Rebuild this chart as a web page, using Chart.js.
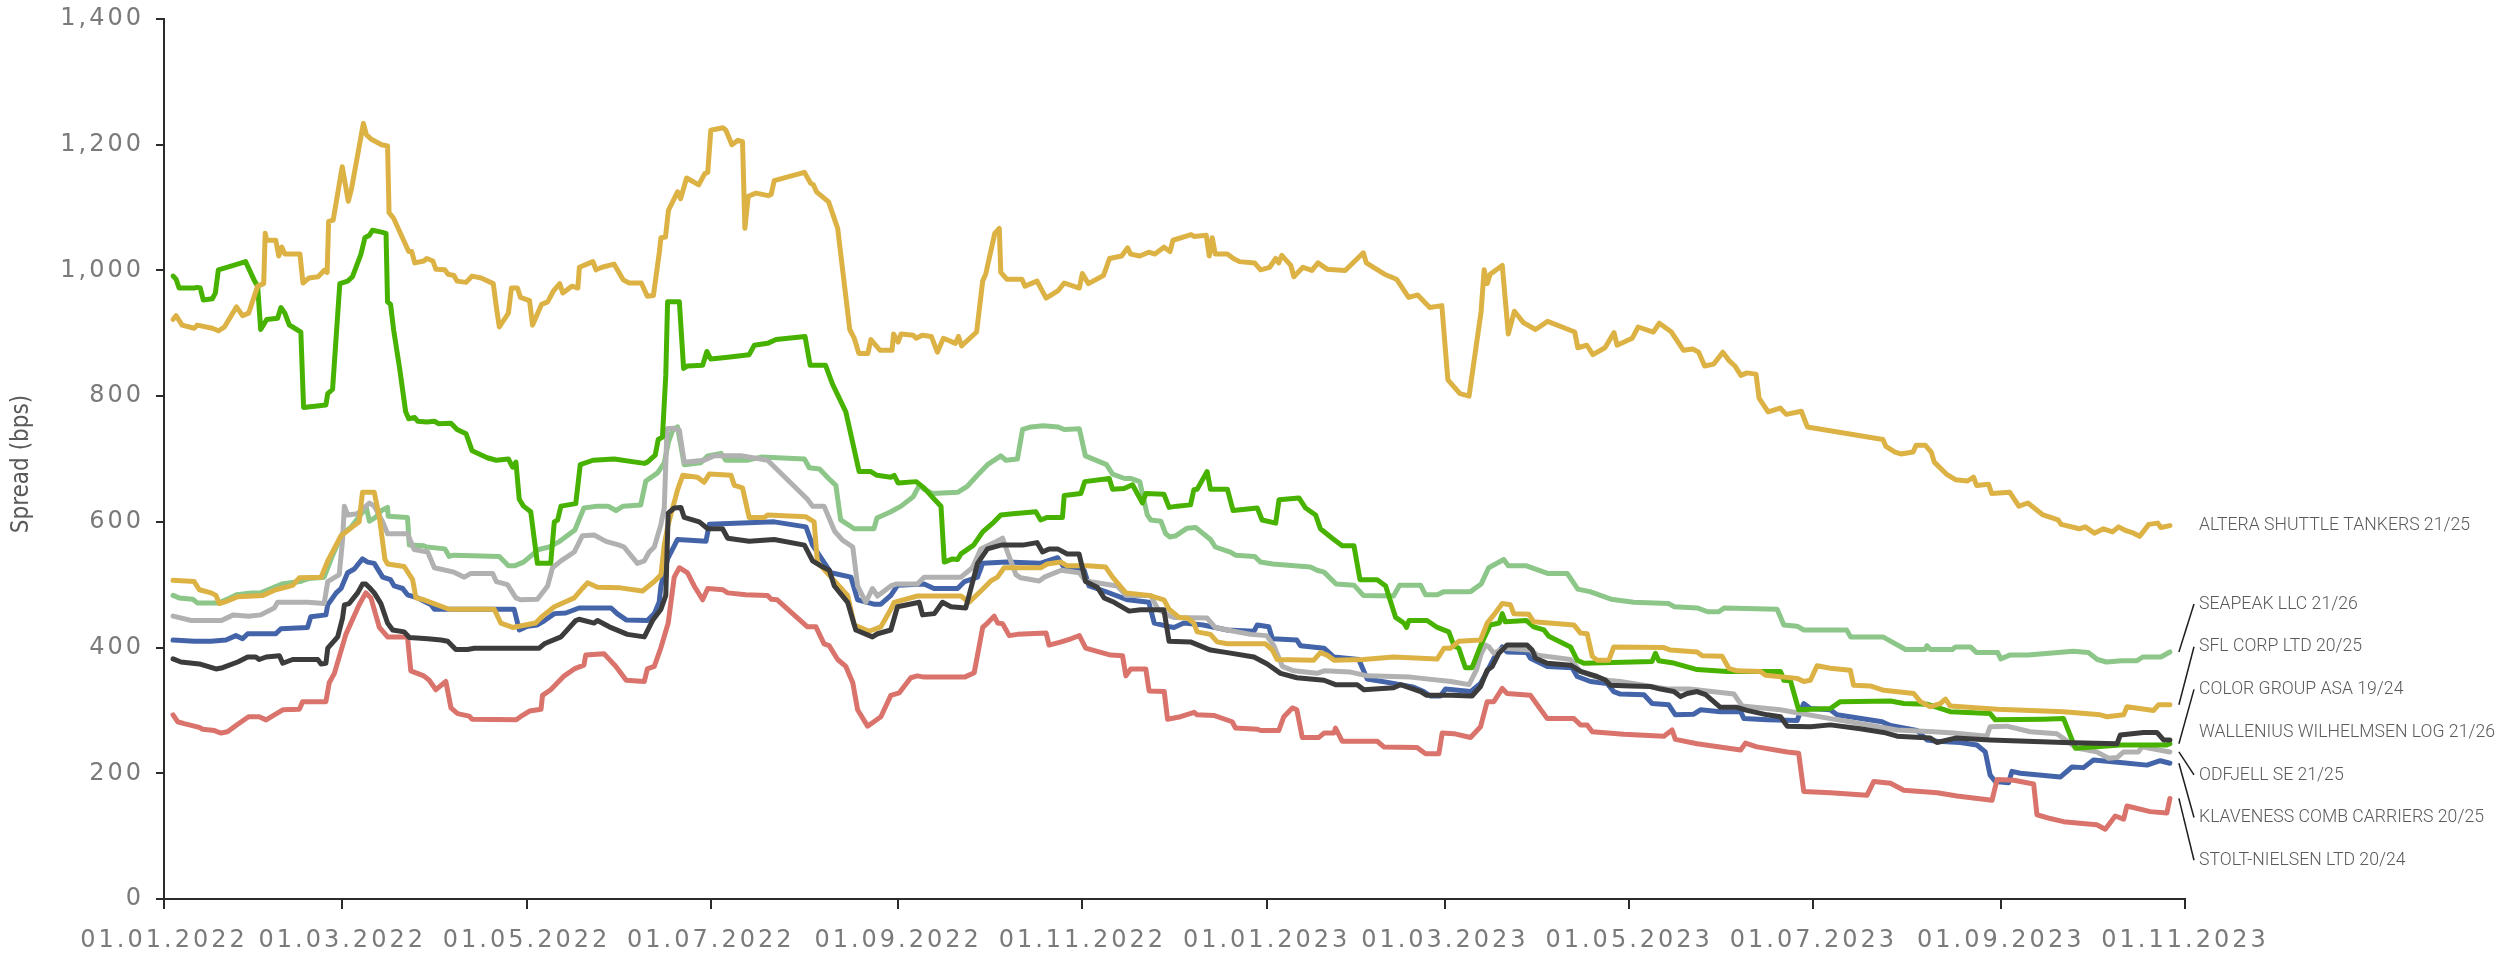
<!DOCTYPE html>
<html>
<head>
<meta charset="utf-8">
<title>Spread (bps)</title>
<script src="https://cdn.jsdelivr.net/npm/chart.js@4.4.1/dist/chart.umd.min.js"></script>
<style>
  html, body { margin: 0; padding: 0; background: #fff; }
  canvas { display: block; }
</style>
</head>
<body>
<canvas id="spreads" width="2499" height="959"></canvas>
<script>
// x values are days counted from 01.01.2022
const tickDays = [0, 59, 120, 181, 243, 304, 365, 424, 485, 546, 608, 669];
const tickLabels = ['01.01.2022', '01.03.2022', '01.05.2022', '01.07.2022', '01.09.2022', '01.11.2022',
  '01.01.2023', '01.03.2023', '01.05.2023', '01.07.2023', '01.09.2023', '01.11.2023'];

const altera = [[3,922],[4,928],[6,913],[10,908],[11,913],[16,908],[18,904],[20,910],[24,942],[26,928],[28,932],[31,975],[33,979],[33.5,1059],[34,1048],[37,1048],[38,1023],[39,1037],[40,1026],[45,1026],[46,980],[48,988],[51,990],[53,1000],[54,997],[54.5,1078],[56,1080],[59,1165],[61,1110],[62,1128],[66,1234],[67,1216],[68.5,1209],[72,1200],[74,1198],[74.5,1092],[76,1083],[81,1030],[82,1030],[83,1012],[86,1015],[87,1019],[89,1015],[90,1002],[93,1001],[94,994],[96,992],[97,983],[100,981],[102,991],[105,988],[109,979],[110,942],[111,910],[114,932],[115,972],[117,972],[118,957],[121,952],[122,913],[125,946],[127,950],[129,968],[131,979],[132,964],[135,975],[137,972],[137.5,1005],[140,1010],[142,1014],[143,1001],[145,1005],[149,1010],[152,985],[154,980],[158,980],[160,959],[162,960],[164,1030],[164.5,1052],[166,1053],[167,1096],[170,1125],[171,1114],[173,1147],[177,1136],[179,1154],[180,1156],[181,1223],[185,1227],[186,1223],[188,1200],[190,1207],[191.5,1205],[192.3,1067],[193.4,1118],[196,1123],[200,1119],[201,1121],[202,1143],[212,1156],[214,1139],[215,1136],[216,1125],[220,1109],[223,1067],[227,906],[228.5,892],[230,868],[233,868],[234,890],[237,873],[241,873],[241.5,899],[243,886],[244,899],[248,897],[249,892],[251,897],[254,895],[256,870],[258,892],[262,884],[263,895],[264,880],[269,902],[271,983],[272,994],[275,1059],[276.5,1067],[277,997],[279,986],[284,986],[285,975],[289,983],[292,956],[296,968],[298,980],[303,972],[304,995],[306,979],[311,992],[313,1019],[317,1023],[319,1036],[320,1026],[323,1023],[326,1029],[328,1026],[331,1037],[333,1030],[334,1048],[340,1057],[341,1054],[345,1056],[346,1023],[347,1052],[348,1026],[352,1026],[354,1019],[356,1014],[361,1012],[363,1001],[366,1005],[368,1019],[369,1012],[370,1024],[373,1008],[374,990],[377,1005],[380,1000],[382,1012],[385,1002],[391,1000],[397,1028],[398,1012],[404,994],[408,986],[412,957],[415,961],[419,941],[423,944],[424,884],[425,826],[429,804],[432,800],[436,935],[437,1001],[438,979],[439,994],[443,1008],[445,899],[447,935],[450,917],[454,906],[458,919],[467,902],[468,877],[471,881],[473,866],[477,877],[480,901],[481,881],[486,892],[488,910],[493,902],[495,916],[499,902],[503,873],[506,875],[508,870],[510,848],[513,851],[516,870],[518,857],[520,848],[522,833],[524,837],[527,835],[528,797],[531,775],[535,781],[537,771],[542,776],[544,751],[569,731],[570,720],[573,711],[575,708],[579,711],[580,722],[583,722],[585,711],[586,695],[590,676],[593,667],[597,665],[599,671],[600,658],[604,660],[605,645],[611,647],[614,625],[617,630],[622,611],[627,603],[628,596],[634,589],[636,592],[639,582],[642,589],[645,584],[647,592],[649,587],[652,582],[654,577],[657,596],[660,598],[661,591],[664,594]];

const seapeak = [[3,483],[5,479],[9.5,477],[11,471],[18,471],[21,477],[24,484],[29,487],[32,487],[39,501],[45,505],[48,510],[53,512],[56,549],[59,581],[62,592],[65,611],[67,622],[68,601],[70,607],[72,618],[74,623],[74.2,609],[80.6,607],[81.2,563],[86,562],[87,560],[93,557],[94.4,545],[96,547],[111,545],[114,530],[116,530],[119,536],[124,556],[127.5,560],[131,569],[136,587],[139,622],[143.5,625],[147,625],[149.6,618],[152,625],[157.8,627],[159.5,665],[163.4,678],[165.6,694],[167,727],[168.4,746],[170,751],[172.2,691],[177.7,694],[180,705],[184.4,709],[186,698],[193,698],[197.6,703],[212,700],[213.6,686],[217,684],[220,669],[222.4,658],[224,603],[228.5,589],[235,589],[236,606],[240.6,616],[244,625],[248,640],[250,658],[251.6,652],[254.4,645],[262.7,647],[266,657],[269,673],[272.6,691],[277,705],[278.7,698],[282.5,700],[284.2,747],[287,751],[291,753],[296,751],[298,747],[303,748],[305,705],[312,691],[314,676],[318,669],[320,669],[323,664],[325.5,611],[326.6,603],[330,601],[331.6,581],[333,576],[335,578],[338.7,590],[341.5,591],[346.4,572],[348,560],[353,552],[354.7,547],[361,545],[363,536],[367,533],[379.5,528],[381.7,523],[384,520],[388,501],[394,499],[397,483],[407,482],[409,499],[416,499],[417.6,484],[421.5,484],[423.7,489],[432.5,489],[436,501],[438.5,527],[443.5,540],[445,530],[451,530],[458,518],[464.5,518],[468,493],[472,489],[479,477],[486.5,472],[498,470],[500,465],[507.5,463],[511,457],[514.7,457],[516.4,463],[534,461],[536.2,436],[540.6,434],[542.8,428],[557,428],[558.3,417],[569,417],[576.5,397],[583,397],[583.6,403],[584.7,397],[592,397],[593,401],[598,401],[600,392],[607,392],[608,382],[611,388],[617,388],[632,394],[637,392],[640,381],[643,377],[648,379],[653,379],[655,385],[661,385],[664,393]];

const sflCorp = [[3,507],[10,505],[11.7,492],[15.6,487],[17.2,483],[18.3,470],[21,474],[24.4,481],[32.7,483],[37,492],[42.6,499],[44.8,511],[52,512],[54.2,538],[58.6,578],[62.4,592],[64.6,600],[65.7,647],[69.6,647],[71.3,607],[71.8,589],[73.1,541],[74,533],[79.5,529],[82.3,508],[83.4,479],[86,476],[94.4,461],[109.3,461],[111.5,439],[115.4,432],[123,439],[125.3,450],[129.2,465],[132,471],[135.8,479],[138.5,494],[140.2,503],[143.5,496],[151,495],[158.4,490],[162.3,505],[164.5,516],[165.6,563],[166.7,592],[170,651],[171.7,674],[176.6,671],[178.8,663],[180.5,676],[187.7,674],[188.8,658],[191.5,654],[193.7,607],[198.7,607],[199.8,611],[212.5,608],[215.2,600],[216.3,536],[220.8,512],[226.3,483],[228.5,436],[233.4,426],[237.3,433],[240.6,461],[241.7,472],[249.4,482],[263.8,482],[266.5,472],[270.4,490],[273.7,506],[275.9,512],[278.1,527],[290.2,527],[292.4,533],[296.9,536],[299,530],[305.7,530],[311.7,528],[314,512],[318.4,487],[326.1,483],[331,476],[332.7,461],[336,448],[338.7,447],[340.9,439],[342,425],[346.4,421],[348.6,409],[352,406],[364.6,406],[366.9,396],[368.5,381],[380.6,380],[382.8,392],[385,388],[387.3,380],[397,381],[407,385],[421.5,382],[423.7,399],[425.9,399],[428.6,410],[435.8,412],[438,439],[440.2,452],[443,470],[445.7,468],[446.8,454],[451.8,453],[453.4,441],[466.7,436],[468.9,423],[471.1,422],[472.8,386],[474.4,380],[478.3,380],[479.9,401],[496.5,400],[498.7,396],[507.5,393],[509.2,387],[515.8,386],[518,367],[520.7,363],[528.5,362],[530.1,356],[540.6,351],[542.8,346],[545,348],[547.2,371],[551.6,367],[558.2,364],[559.3,340],[564.8,339],[569.3,332],[579.2,327],[581.4,314],[584.7,306],[588,311],[589.7,318],[591.3,307],[606.8,302],[628.8,298],[640.9,293],[643.2,290],[648.7,293],[649.8,306],[658.6,300],[660.2,309],[664,309]];

const colorGroup = [[3,991],[4,986],[5,972],[10,972],[11,973],[12,972],[13,953],[16,955],[17,964],[18,1001],[23,1008],[27,1014],[30,983],[31,975],[32,906],[34,922],[37.6,924],[38.7,941],[40,932],[41.5,913],[42.6,910],[45.3,902],[46.2,782],[53.6,786],[54.2,804],[55.8,811],[58.2,979],[60.8,983],[62.4,990],[65.2,1026],[66.5,1052],[68,1056],[69,1064],[72,1061],[73.5,1059],[74,950],[75,946],[76,906],[78,844],[80,775],[81,764],[83,766],[84,760],[87,759],[89.5,760],[91,756],[95,757],[97,747],[100,740],[102,713],[107,702],[110,698],[114,700],[115.4,687],[116.5,695],[117.6,636],[119,625],[121.4,616],[123.6,534],[128,534],[129.2,600],[130.3,603],[131.4,625],[136.3,629],[137.8,691],[142,698],[149,700],[159,693],[160,695],[162.6,706],[163.6,731],[165,735],[166.1,833],[166.7,950],[170.6,950],[172,844],[173.3,848],[178.3,849],[179.7,871],[181,859],[186.6,862],[193.7,866],[195.4,881],[199.8,884],[202.6,890],[212.2,895],[213.9,849],[219,849],[221.3,819],[225.7,775],[230.1,680],[234,680],[236,674],[240.6,671],[241.7,674],[243,662],[249,664],[251.6,654],[255,636],[257.2,625],[258.3,536],[261,541],[262.7,540],[263.8,549],[268,563],[271,584],[274.8,600],[277,611],[281,613],[288.6,616],[290.2,603],[292.4,607],[297.4,607],[298,642],[303.5,645],[304.8,664],[312.9,669],[314,652],[317.8,653],[320.6,659],[323.9,630],[325,645],[331,644],[332.7,623],[335.4,625],[339.8,627],[340.9,651],[342,652],[345.3,680],[346.4,652],[352,652],[353.9,618],[361.9,622],[363.5,603],[368,598],[369.1,635],[375.7,638],[377.9,622],[381.2,611],[382.8,589],[386.7,574],[390,562],[393.9,562],[395.9,508],[401.6,508],[404.4,498],[407.7,448],[410.4,439],[411.3,432],[412.1,443],[418.1,443],[421.5,432],[425.3,425],[427,403],[428.6,399],[430.8,368],[433,368],[436,405],[439,436],[442,439],[443,454],[444,441],[451,443],[453.4,433],[456.8,428],[458.4,418],[465.6,401],[467.8,380],[470,375],[492.6,378],[493.7,391],[494.8,379],[499.2,376],[507.5,365],[517.4,362],[535.1,362],[536.2,348],[538.4,347],[541.1,301],[551.6,303],[554.9,314],[571.5,315],[575.9,311],[583.6,310],[591.3,298],[604.5,295],[606.2,285],[622.2,286],[628.8,287],[632.7,240],[647.6,245],[663,245],[664,247]];

const wallenius = [[3,382],[5.6,377],[11.7,374],[17.2,366],[19.4,368],[24.4,377],[27.7,385],[30.4,385],[31.5,381],[33.8,385],[38.2,387],[39.3,375],[42.6,381],[50.9,381],[52,374],[53.6,375],[54.2,399],[57.5,417],[59.1,447],[59.7,468],[61.3,470],[64.1,487],[65.7,501],[66.8,501],[67.9,496],[69.6,487],[71.8,470],[74,439],[75.7,428],[79.5,425],[81.2,416],[87.3,414],[91.7,412],[93.9,410],[96.6,397],[100.5,397],[102.7,399],[124.2,399],[125.9,406],[131.4,417],[136.3,443],[137.4,445],[142.4,439],[143.5,443],[147.4,433],[153.4,421],[159,417],[161.7,443],[164.5,461],[166.1,483],[166.9,614],[168.9,622],[171.1,623],[172.2,607],[177.2,600],[180,589],[184.9,589],[186.6,574],[193.7,569],[202,572],[212,563],[214.7,538],[217.4,530],[220.2,523],[221.9,498],[226.3,472],[229,428],[234.5,417],[236.2,422],[240.6,428],[242.8,465],[250,472],[251.1,452],[255,454],[257.7,472],[260.5,465],[265.4,463],[269.3,534],[272.6,557],[277,563],[284.2,563],[289,567],[290.8,552],[293,557],[295.8,557],[299,549],[302.9,549],[305.1,505],[308.9,496],[311.2,479],[314.5,472],[319.5,458],[323.3,460],[331,460],[332.7,410],[339.8,409],[346.4,396],[352,392],[360.8,385],[365.2,374],[369.6,359],[375,352],[384,348],[387.8,341],[395,341],[397.2,333],[407,336],[409.3,341],[416,330],[418,324],[426,324],[433,323],[435.8,338],[438,364],[439.7,370],[441.9,391],[444.6,404],[451.2,404],[452.9,396],[454,383],[457.9,375],[465.6,372],[468.9,362],[474.4,354],[477.2,348],[478.8,340],[485.4,339],[492,338],[495.4,334],[499.8,330],[502,322],[504.2,327],[507.5,330],[510.3,325],[515.2,305],[520.7,305],[524,300],[530.7,293],[535.1,290],[537.3,275],[545,274],[551.6,277],[561.5,271],[569.3,265],[573.7,259],[584.7,256],[586.9,249],[593,256],[604.5,253],[628.8,249],[646.5,247],[647.6,261],[655.3,265],[659.7,265],[661.9,253],[664,253]];

const odfjell = [[3,450],[9,443],[19,443],[23,452],[28,450],[32,452],[36.5,463],[37.6,472],[47.5,472],[53,470],[54.2,505],[58,516],[59.1,571],[59.7,625],[60.8,611],[64,613],[68,630],[69.6,625],[72.4,600],[74,581],[80.6,581],[82.8,556],[87.3,552],[89.5,527],[96,520],[99.4,512],[101.6,518],[108.8,518],[110,505],[113.7,500],[116.5,479],[118,476],[123.6,477],[127,498],[128.6,527],[131.4,538],[135.8,552],[138.5,578],[142.4,579],[146.3,569],[150.7,563],[152.3,560],[156.7,534],[159,538],[160.6,552],[162.3,560],[164.5,596],[165.6,622],[166.5,748],[168.4,749],[170.6,746],[172.2,695],[178.8,698],[182,705],[191.5,705],[199.8,698],[213,636],[214.7,625],[218.5,625],[222,585],[224.6,571],[228,560],[229.6,498],[232.3,472],[234.5,494],[236.2,482],[240.6,498],[242.3,501],[249.4,501],[251.6,512],[263.8,512],[267.6,527],[270.4,557],[274.8,567],[277.6,574],[279.2,552],[282,516],[283.6,511],[289.7,506],[291.4,512],[297,523],[303,519],[305,506],[315.6,498],[318.4,483],[326.6,483],[329,461],[333,450],[334.3,448],[345.3,447],[348,432],[352,428],[359.7,421],[365,419],[367.4,403],[370.2,370],[374,363],[381.7,359],[384,363],[392.8,361],[398.3,355],[412.6,353],[426,346],[432,341],[434.5,365],[436,390],[437.5,404],[438.6,401],[440.2,391],[443.5,399],[452.3,396],[454.6,388],[465.6,381],[468.9,362],[472.2,356],[477.7,348],[482,346],[497.6,334],[505,334],[519.7,326],[522.4,307],[535,301],[551.6,287],[558,282],[573.7,269],[585.8,266],[592.4,264],[603.4,259],[604.5,274],[610,275],[617.8,266],[626.6,263],[633.2,240],[639.8,234],[643.7,224],[646.5,225],[648.7,234],[653.6,234],[654.7,242],[664,234]];

const klaveness = [[3,412],[10,410],[15.6,410],[20.5,412],[23.8,419],[26,414],[27.7,422],[37,422],[38.7,430],[47.5,432],[48.6,449],[53.6,452],[54.2,468],[57,487],[58.6,494],[60.8,519],[63,525],[65.7,541],[67.4,536],[69.6,534],[72.4,512],[75,508],[76.2,498],[79,494],[80.6,484],[84,479],[88.4,468],[89.5,461],[115.9,461],[117.6,428],[120.3,434],[123.6,436],[126,443],[129.2,454],[133,455],[137.4,463],[148,463],[150,454],[153,444],[160,443],[162.3,454],[163.9,472],[164.5,498],[166.7,541],[170,572],[179.4,569],[180.5,596],[202,600],[212.5,592],[214.7,563],[220.8,519],[227.4,512],[229.6,476],[235,469],[237.3,469],[240.6,483],[242.8,499],[251.6,501],[254.9,494],[262.7,494],[265,505],[269.3,512],[271,534],[279,536],[290,534],[295.8,543],[298,527],[304.6,523],[306.2,498],[311.2,490],[319,476],[326,472],[327.8,439],[333,433],[334.3,432],[337.6,439],[344,436],[352,428],[360.8,426],[361.9,436],[365.7,433],[366.9,414],[375,412],[376.2,403],[384,399],[387.3,385],[395.5,381],[398.3,350],[407,343],[413.7,337],[417,330],[419.2,323],[422.5,323],[424.2,334],[432.5,330],[435.8,343],[438,362],[440.2,383],[443,401],[444.6,393],[451.2,392],[452.3,383],[457.9,370],[466.1,368],[467.8,354],[472.2,346],[477.7,343],[479.9,330],[482.1,326],[489.9,325],[492.6,311],[498.1,309],[500.3,293],[506.4,294],[508.6,301],[515.2,298],[521.9,298],[523,287],[530.7,285],[540.6,284],[542.8,311],[545,303],[551.6,301],[553.8,293],[568.7,282],[571.5,276],[580.3,268],[583.6,253],[586.9,251],[594.6,249],[600.1,245],[602.9,234],[604.5,197],[606.2,187],[610.6,185],[611.7,203],[614.5,200],[627.7,194],[631.6,210],[635.4,209],[638.7,221],[647.6,217],[656.4,213],[660.8,220],[664,216]];

const stolt = [[3,293],[4.5,282],[6.7,279],[11.7,273],[12.8,270],[16.7,268],[18.9,264],[21,266],[25,280],[28,290],[31.5,290],[33.8,285],[39.3,301],[44.8,302],[45.9,314],[53.6,314],[54.7,344],[56.4,359],[60.2,421],[64.6,468],[66.8,487],[68.5,479],[71.3,432],[74,417],[80.6,417],[81.7,363],[86,355],[87.8,348],[90,333],[93.3,346],[95,304],[97.2,295],[101,291],[102,286],[116.5,285],[118,290],[121,299],[124.8,302],[125.3,324],[128,333],[132.5,355],[135.8,366],[139,372],[139.6,388],[145.7,390],[149.6,370],[153,348],[159,346],[160,366],[162.3,370],[164.5,400],[166.9,439],[168.9,512],[170.6,527],[173.3,519],[175.5,498],[178.3,476],[180,494],[185,492],[186.6,487],[192.6,484],[199.8,483],[201,477],[203,476],[213,433],[215.8,433],[218.5,406],[220.2,403],[223,381],[225.7,370],[228,344],[229.6,301],[232.9,275],[235,282],[237.3,290],[240.6,324],[243.4,328],[247.2,352],[249.4,355],[251.6,353],[265,353],[268.2,360],[271,432],[272.6,439],[274.8,450],[276,439],[277.6,438],[279.8,419],[282.5,421],[292,423],[293,404],[297,409],[300.2,414],[303,419],[305.1,399],[308,395],[313.4,388],[317.3,387],[318.4,355],[320,366],[325,366],[326.1,331],[331.1,330],[332.2,286],[336.5,290],[341,297],[342,293],[347.5,292],[353.6,282],[354.7,272],[362,270],[363,268],[369,268],[370.7,290],[373.5,304],[375,301],[376.8,257],[382.3,257],[384,264],[387.3,264],[387.8,272],[390,251],[401.6,251],[403.8,242],[414.8,241],[417.6,231],[422,231],[423.1,264],[427,263],[432.5,257],[435.8,274],[438,314],[440.2,314],[443,335],[444.6,327],[452.3,324],[457.9,287],[466.7,287],[468.9,277],[471.1,277],[472.8,266],[483.2,262],[496.5,259],[499.2,269],[500.3,254],[507.5,247],[521.9,237],[523.5,248],[527.3,242],[537.3,234],[541.1,232],[542.8,171],[551.6,169],[563.7,165],[566,187],[571.5,184],[575.9,173],[587,169],[593.5,164],[605.1,157],[606.8,190],[612.3,189],[618.9,183],[620,134],[624.4,128],[628.8,123],[633.2,121],[639.8,118],[642.6,111],[645.9,132],[648.7,127],[649.8,148],[657.5,139],[663,137],[664,160]];

// drawing order: first entry ends up on top
const series = [
  { name: 'WALLENIUS WILHELMSEN LOG 21/26', points: wallenius, color: '#3c3c3c' },
  { name: 'STOLT-NIELSEN LTD 20/24', points: stolt, color: '#d9736b' },
  { name: 'ALTERA SHUTTLE TANKERS 21/25', points: altera, color: '#dcb245' },
  { name: 'SFL CORP LTD 20/25', points: sflCorp, color: '#dcb245' },
  { name: 'COLOR GROUP ASA 19/24', points: colorGroup, color: '#47b300' },
  { name: 'ODFJELL SE 21/25', points: odfjell, color: '#b1b1b1' },
  { name: 'KLAVENESS COMB CARRIERS 20/25', points: klaveness, color: '#4464a9' },
  { name: 'SEAPEAK LLC 21/26', points: seapeak, color: '#8cc689' }
];

// right-hand labels, top of the stack first
const stackOrder = ['SEAPEAK LLC 21/26', 'SFL CORP LTD 20/25', 'COLOR GROUP ASA 19/24',
  'WALLENIUS WILHELMSEN LOG 21/26', 'ODFJELL SE 21/25', 'KLAVENESS COMB CARRIERS 20/25', 'STOLT-NIELSEN LTD 20/24'];

// the tick font in the source is wide and airy; open it up a little
const tickSpacing = {
  id: 'tickSpacing',
  beforeDraw(chart) { chart.ctx.letterSpacing = '3px'; },
  beforeDatasetsDraw(chart) { chart.ctx.letterSpacing = '0px'; }
};

const endLabels = {
  id: 'endLabels',
  afterDatasetsDraw(chart) {
    const { ctx, scales: { x, y } } = chart;
    const textX = 2199;
    const ends = {};
    series.forEach(s => {
      const last = s.points[s.points.length - 1];
      ends[s.name] = { px: x.getPixelForValue(last[0]), py: y.getPixelForValue(last[1]) };
    });
    ctx.save();

    // y axis title
    ctx.save();
    ctx.translate(22, (y.top + y.bottom) / 2 + 5);
    ctx.rotate(-Math.PI / 2);
    ctx.font = '24px "DejaVu Sans Condensed", "DejaVu Sans", sans-serif';
    ctx.fillStyle = '#5a5a5a';
    ctx.textAlign = 'center';
    ctx.textBaseline = 'middle';
    ctx.fillText('Spread (bps)', 0, 0);
    ctx.restore();

    ctx.font = '300 19px Roboto, "DejaVu Sans", sans-serif';
    ctx.fillStyle = '#5a5a5a';
    ctx.textBaseline = 'middle';
    ctx.strokeStyle = '#1e1e1e';
    ctx.lineWidth = 1.5;
    // the source uses a condensed face: squeeze the text to its width
    const squeeze = 271 / ctx.measureText('ALTERA SHUTTLE TANKERS 21/25').width;
    const label = (text, ty) => {
      ctx.save();
      ctx.translate(textX, ty);
      ctx.scale(squeeze, 1);
      ctx.fillText(text, 0, 0);
      ctx.restore();
    };

    label('ALTERA SHUTTLE TANKERS 21/25', ends['ALTERA SHUTTLE TANKERS 21/25'].py);

    stackOrder.forEach((name, i) => {
      const ly = 604 + i * 42.7;
      const e = ends[name];
      if (Math.abs(ly - e.py) > 12) {
        ctx.beginPath();
        ctx.moveTo(e.px + 9, e.py);
        ctx.lineTo(textX - 5, ly);
        ctx.stroke();
      }
      label(name, ly);
    });
    ctx.restore();
  }
};

const tickFont = { family: "'DejaVu Sans', sans-serif", size: 24 };

new Chart(document.getElementById('spreads'), {
  type: 'line',
  data: {
    datasets: series.map(s => ({
      label: s.name,
      data: s.points.map(p => ({ x: p[0], y: p[1] })),
      borderColor: s.color,
      backgroundColor: s.color,
      borderWidth: 5,
      pointRadius: 0,
      tension: 0,
      borderJoinStyle: 'round',
      borderCapStyle: 'round',
      fill: false
    }))
  },
  options: {
    responsive: false,
    devicePixelRatio: 1,
    animation: false,
    layout: { padding: { left: 0, top: 19, right: 314, bottom: 0 } },
    plugins: {
      legend: { display: false },
      tooltip: { enabled: false }
    },
    scales: {
      x: {
        type: 'linear',
        min: 0,
        max: 669,
        afterBuildTicks: (scale) => { scale.ticks = tickDays.map(v => ({ value: v })); },
        afterFit: (scale) => { scale.height = 60; },
        ticks: {
          autoSkip: false,
          maxRotation: 0,
          color: '#7a7a7a',
          font: tickFont,
          padding: 17,
          callback: (value, index) => tickLabels[index]
        },
        grid: { drawOnChartArea: false, drawTicks: true, tickLength: 10, color: '#2b2b2b', lineWidth: 2 },
        border: { display: true, color: '#2b2b2b', width: 2 }
      },
      y: {
        min: 0,
        max: 1400,
        afterFit: (scale) => {
          scale.width = 164;
          scale.paddingTop = 0;
          scale.paddingBottom = 0;
        },
        ticks: {
          stepSize: 200,
          color: '#7a7a7a',
          font: tickFont,
          padding: 12,
          callback: (value) => value.toLocaleString('en-US')
        },
        grid: { drawOnChartArea: false, drawTicks: true, tickLength: 8, color: '#2b2b2b', lineWidth: 2 },
        border: { display: true, color: '#2b2b2b', width: 2 }
      }
    }
  },
  plugins: [tickSpacing, endLabels]
});
</script>
</body>
</html>
